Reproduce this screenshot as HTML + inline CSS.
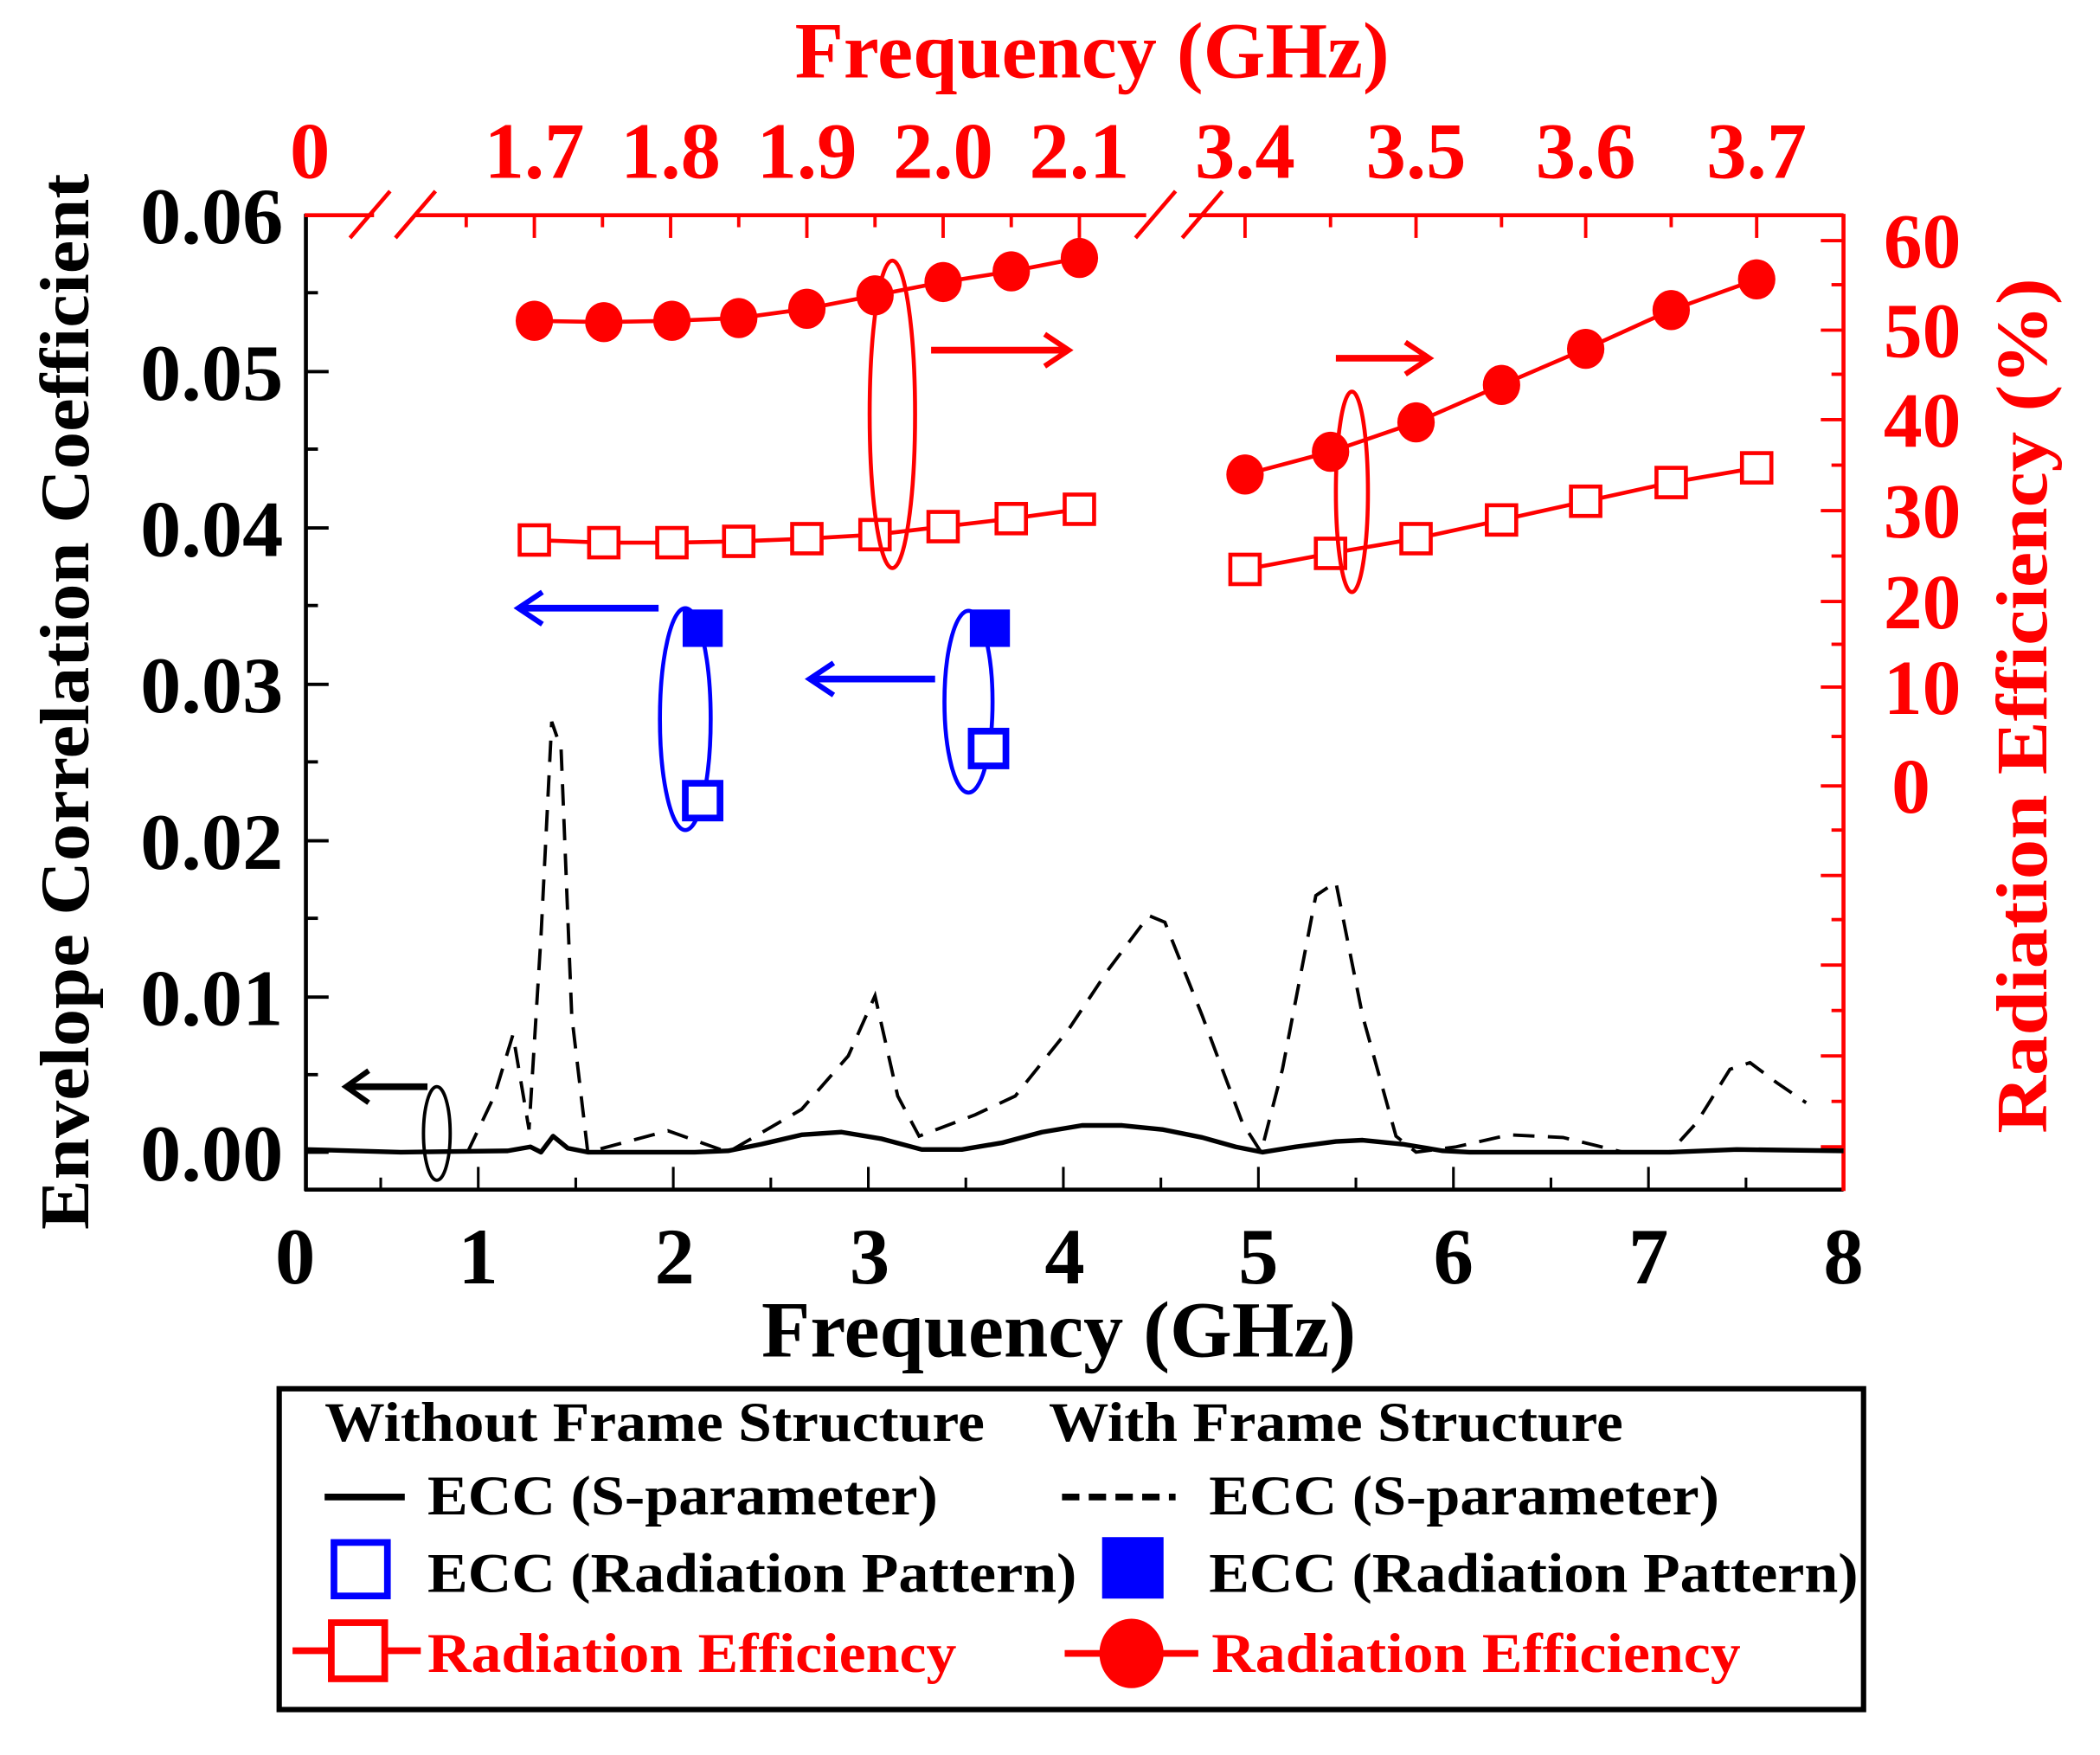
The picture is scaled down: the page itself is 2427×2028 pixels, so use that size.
<!DOCTYPE html>
<html><head><meta charset="utf-8"><style>html,body{margin:0;padding:0;background:#fff}svg{display:block}text{font-family:"Liberation Serif","Times New Roman",serif;font-weight:bold}</style></head>
<body>
<svg width="2427" height="2028" viewBox="0 0 1572 1313" preserveAspectRatio="none" xmlns="http://www.w3.org/2000/svg">
<rect width="1572" height="1313" fill="#fff"/>
<g stroke="#000" stroke-width="3" fill="none">
<line x1="229" y1="160" x2="229" y2="891"/>
<line x1="228" y1="890" x2="1380" y2="890"/>
</g>
<g stroke="#000" stroke-width="2.5">
<line x1="229" y1="278" x2="246" y2="278"/><line x1="229" y1="395" x2="246" y2="395"/><line x1="229" y1="512" x2="246" y2="512"/><line x1="229" y1="629" x2="246" y2="629"/><line x1="229" y1="746" x2="246" y2="746"/><line x1="229" y1="862" x2="246" y2="862"/>
<line x1="229" y1="219" x2="238" y2="219"/><line x1="229" y1="336" x2="238" y2="336"/><line x1="229" y1="453" x2="238" y2="453"/><line x1="229" y1="570" x2="238" y2="570"/><line x1="229" y1="687" x2="238" y2="687"/><line x1="229" y1="804" x2="238" y2="804"/>
</g>
<g stroke="#000" stroke-width="2">
<line x1="358" y1="890" x2="358" y2="873"/><line x1="504" y1="890" x2="504" y2="873"/><line x1="650" y1="890" x2="650" y2="873"/><line x1="796" y1="890" x2="796" y2="873"/><line x1="942" y1="890" x2="942" y2="873"/><line x1="1088" y1="890" x2="1088" y2="873"/><line x1="1234" y1="890" x2="1234" y2="873"/>
<line x1="285" y1="890" x2="285" y2="881"/><line x1="431" y1="890" x2="431" y2="881"/><line x1="577" y1="890" x2="577" y2="881"/><line x1="723" y1="890" x2="723" y2="881"/><line x1="869" y1="890" x2="869" y2="881"/><line x1="1015" y1="890" x2="1015" y2="881"/><line x1="1161" y1="890" x2="1161" y2="881"/><line x1="1307" y1="890" x2="1307" y2="881"/>
</g>
<g stroke="#f00" stroke-width="3" fill="none">
<line x1="1380" y1="160" x2="1380" y2="891"/>
<polyline points="228,161 280,161"/>
<polyline points="310,161 858,161"/>
<polyline points="890,161 1380,161"/>
<line x1="262" y1="178" x2="292" y2="143"/>
<line x1="296" y1="178" x2="326" y2="143"/>
<line x1="850" y1="178" x2="880" y2="143"/>
<line x1="885" y1="178" x2="915" y2="143"/>
</g>
<g stroke="#f00" stroke-width="2.5">
<line x1="1380" y1="180" x2="1363" y2="180"/><line x1="1380" y1="247" x2="1363" y2="247"/><line x1="1380" y1="314" x2="1363" y2="314"/><line x1="1380" y1="382" x2="1363" y2="382"/><line x1="1380" y1="450" x2="1363" y2="450"/><line x1="1380" y1="514" x2="1363" y2="514"/><line x1="1380" y1="588" x2="1363" y2="588"/><line x1="1380" y1="655" x2="1363" y2="655"/><line x1="1380" y1="722" x2="1363" y2="722"/><line x1="1380" y1="790" x2="1363" y2="790"/><line x1="1380" y1="858" x2="1363" y2="858"/>
<line x1="1380" y1="213" x2="1371" y2="213"/><line x1="1380" y1="280" x2="1371" y2="280"/><line x1="1380" y1="348" x2="1371" y2="348"/><line x1="1380" y1="416" x2="1371" y2="416"/><line x1="1380" y1="482" x2="1371" y2="482"/><line x1="1380" y1="551" x2="1371" y2="551"/><line x1="1380" y1="621" x2="1371" y2="621"/><line x1="1380" y1="688" x2="1371" y2="688"/><line x1="1380" y1="756" x2="1371" y2="756"/><line x1="1380" y1="824" x2="1371" y2="824"/>
<line x1="400" y1="161" x2="400" y2="178"/><line x1="502" y1="161" x2="502" y2="178"/><line x1="604" y1="161" x2="604" y2="178"/><line x1="706" y1="161" x2="706" y2="178"/><line x1="808" y1="161" x2="808" y2="178"/>
<line x1="349" y1="161" x2="349" y2="170"/><line x1="451" y1="161" x2="451" y2="170"/><line x1="553" y1="161" x2="553" y2="170"/><line x1="655" y1="161" x2="655" y2="170"/><line x1="757" y1="161" x2="757" y2="170"/>
<line x1="932" y1="161" x2="932" y2="178"/><line x1="1060" y1="161" x2="1060" y2="178"/><line x1="1187" y1="161" x2="1187" y2="178"/><line x1="1315" y1="161" x2="1315" y2="178"/>
<line x1="996" y1="161" x2="996" y2="170"/><line x1="1124" y1="161" x2="1124" y2="170"/><line x1="1251" y1="161" x2="1251" y2="170"/>
</g>
<g font-size="60" fill="#000">
<text x="105" y="182" textLength="107" lengthAdjust="spacingAndGlyphs">0.06</text><text x="105" y="299" textLength="107" lengthAdjust="spacingAndGlyphs">0.05</text><text x="105" y="416" textLength="107" lengthAdjust="spacingAndGlyphs">0.04</text><text x="105" y="533" textLength="107" lengthAdjust="spacingAndGlyphs">0.03</text><text x="105" y="650" textLength="107" lengthAdjust="spacingAndGlyphs">0.02</text><text x="105" y="767" textLength="107" lengthAdjust="spacingAndGlyphs">0.01</text><text x="105" y="883" textLength="107" lengthAdjust="spacingAndGlyphs">0.00</text>
</g>
<g font-size="60" text-anchor="middle" fill="#000">
<text x="221" y="960">0</text><text x="358" y="960">1</text><text x="505" y="960">2</text><text x="651" y="960">3</text><text x="797" y="960">4</text><text x="942" y="960">5</text><text x="1088" y="960">6</text><text x="1234" y="960">7</text><text x="1380" y="960">8</text>
</g>
<text x="570" y="1015" font-size="60" textLength="445" lengthAdjust="spacingAndGlyphs">Frequency (GHz)</text>
<text transform="translate(66,525) rotate(-90)" font-size="52" text-anchor="middle" textLength="790" lengthAdjust="spacingAndGlyphs">Envelope Correlation Coefficient</text>
<g fill="#f00" font-size="60" text-anchor="middle">
<text x="232" y="133">0</text><text x="400" y="133">1.7</text><text x="502" y="133">1.8</text><text x="604" y="133">1.9</text><text x="706" y="133">2.0</text><text x="808" y="133">2.1</text>
<text x="932" y="133">3.4</text><text x="1060" y="133">3.5</text><text x="1187" y="133">3.6</text><text x="1315" y="133">3.7</text>
</g>
<text x="595" y="58" fill="#f00" font-size="60" textLength="445" lengthAdjust="spacingAndGlyphs">Frequency (GHz)</text>
<g fill="#f00" font-size="58">
<text x="1410" y="200">60</text><text x="1410" y="267">50</text><text x="1410" y="334">40</text><text x="1410" y="402">30</text><text x="1410" y="470">20</text><text x="1410" y="534">10</text><text x="1416" y="608">0</text>
</g>
<text transform="translate(1532,528) rotate(-90)" fill="#f00" font-size="54" text-anchor="middle" textLength="640" lengthAdjust="spacingAndGlyphs">Radiation Efficiency (%)</text>
<polyline fill="none" stroke="#000" stroke-width="3.5" stroke-linejoin="round" points="229,860 300,862 380,861 397,858 405,862 414,850 425,859 440,862 520,862 545,861 570,856 600,849 630,847 660,852 690,860 720,860 750,855 780,847 810,842 840,842 870,845 900,851 925,858 945,862 970,858 1000,854 1020,853 1050,856 1080,861 1100,862 1250,862 1300,860 1380,861"/>
<polyline fill="none" stroke="#000" stroke-width="2.5" stroke-dasharray="16,10" points="350,862 370,820 384,774 396,845 405,700 413,540 420,560 428,760 440,862 500,846 545,862 600,830 635,790 655,745 672,820 688,850 730,834 760,820 800,770 830,725 860,685 872,690 900,760 930,840 944,862 960,800 985,670 1000,660 1020,760 1045,850 1060,862 1090,858 1130,849 1170,851 1215,862 1250,862 1270,840 1295,800 1310,795 1330,810 1352,825"/>
<g stroke="#f00" stroke-width="3" fill="none">
<polyline points="400,240 452,241 503,240 553,238 604,231 655,221 706,211 757,203 808,193"/>
<polyline points="932,355 996,338 1060,316 1124,288 1187,261 1251,232 1315,209"/>
<polyline points="400,404 452,406 503,406 553,405 604,403 655,400 706,394 757,388 808,381"/>
<polyline points="932,426 996,414 1060,403 1124,389 1187,375 1251,361 1315,350"/>
</g>
<g fill="#f00">
<ellipse cx="400" cy="240" rx="14" ry="15"/><ellipse cx="452" cy="241" rx="14" ry="15"/><ellipse cx="503" cy="240" rx="14" ry="15"/><ellipse cx="553" cy="238" rx="14" ry="15"/><ellipse cx="604" cy="231" rx="14" ry="15"/><ellipse cx="655" cy="221" rx="14" ry="15"/><ellipse cx="706" cy="211" rx="14" ry="15"/><ellipse cx="757" cy="203" rx="14" ry="15"/><ellipse cx="808" cy="193" rx="14" ry="15"/>
<ellipse cx="932" cy="355" rx="14" ry="15"/><ellipse cx="996" cy="338" rx="14" ry="15"/><ellipse cx="1060" cy="316" rx="14" ry="15"/><ellipse cx="1124" cy="288" rx="14" ry="15"/><ellipse cx="1187" cy="261" rx="14" ry="15"/><ellipse cx="1251" cy="232" rx="14" ry="15"/><ellipse cx="1315" cy="209" rx="14" ry="15"/>
</g>
<g fill="#fff" stroke="#f00" stroke-width="3">
<rect x="389" y="393" width="22" height="22"/><rect x="441" y="395" width="22" height="22"/><rect x="492" y="395" width="22" height="22"/><rect x="542" y="394" width="22" height="22"/><rect x="593" y="392" width="22" height="22"/><rect x="644" y="389" width="22" height="22"/><rect x="695" y="383" width="22" height="22"/><rect x="746" y="377" width="22" height="22"/><rect x="797" y="370" width="22" height="22"/>
<rect x="921" y="415" width="22" height="22"/><rect x="985" y="403" width="22" height="22"/><rect x="1049" y="392" width="22" height="22"/><rect x="1113" y="378" width="22" height="22"/><rect x="1176" y="364" width="22" height="22"/><rect x="1240" y="350" width="22" height="22"/><rect x="1304" y="339" width="22" height="22"/>
</g>
<g stroke="#f00" stroke-width="3" fill="none">
<ellipse cx="668" cy="310" rx="17" ry="115" stroke-dasharray="560,22"/>
<ellipse cx="1012" cy="368" rx="12" ry="75" stroke-dasharray="360,18"/>
<line x1="697" y1="262" x2="798" y2="262" stroke-width="5"/><polyline points="782,250 800,262 782,274" stroke-width="4"/>
<line x1="1000" y1="268" x2="1068" y2="268" stroke-width="5"/><polyline points="1052,256 1070,268 1052,280" stroke-width="4"/>
</g>
<g stroke="#00f" stroke-width="3" fill="none">
<ellipse cx="513" cy="538" rx="19" ry="83" stroke-dasharray="420,14"/>
<ellipse cx="725" cy="525" rx="18" ry="68" stroke-dasharray="340,14"/>
<line x1="493" y1="455" x2="390" y2="455" stroke-width="5"/><polyline points="406,443 388,455 406,467" stroke-width="4"/>
<line x1="700" y1="508" x2="608" y2="508" stroke-width="5"/><polyline points="624,496 606,508 624,520" stroke-width="4"/>
</g>
<rect x="511" y="456" width="30" height="28" fill="#00f"/>
<rect x="726" y="456" width="30" height="28" fill="#00f"/>
<rect x="513" y="586" width="26" height="26" fill="#fff" stroke="#00f" stroke-width="5"/>
<rect x="727" y="547" width="26" height="26" fill="#fff" stroke="#00f" stroke-width="5"/>
<ellipse cx="327" cy="848" rx="10" ry="35" fill="none" stroke="#000" stroke-width="2.5"/>
<line x1="320" y1="813" x2="262" y2="813" stroke="#000" stroke-width="5"/><polyline points="276,801 259,813 276,825" fill="none" stroke="#000" stroke-width="4"/>
<rect x="209" y="1039" width="1186" height="240" fill="#fff" stroke="#000" stroke-width="4"/>
<g font-size="42" fill="#000">
<text x="243" y="1078" textLength="494" lengthAdjust="spacingAndGlyphs">Without Frame Structure</text>
<text x="785" y="1078" textLength="430" lengthAdjust="spacingAndGlyphs">With Frame Structure</text>
<text x="320" y="1133" textLength="382" lengthAdjust="spacingAndGlyphs">ECC (S-parameter)</text>
<text x="905" y="1133" textLength="382" lengthAdjust="spacingAndGlyphs">ECC (S-parameter)</text>
<text x="320" y="1191" textLength="486" lengthAdjust="spacingAndGlyphs">ECC (Radiation Pattern)</text>
<text x="905" y="1191" textLength="486" lengthAdjust="spacingAndGlyphs">ECC (Radiation Pattern)</text>
</g>
<g font-size="42" fill="#f00">
<text x="320" y="1251" textLength="396" lengthAdjust="spacingAndGlyphs">Radiation Efficiency</text>
<text x="907" y="1251" textLength="396" lengthAdjust="spacingAndGlyphs">Radiation Efficiency</text>
</g>
<line x1="243" y1="1120" x2="303" y2="1120" stroke="#000" stroke-width="5"/>
<line x1="795" y1="1120" x2="880" y2="1120" stroke="#000" stroke-width="5" stroke-dasharray="13,7"/>
<rect x="250" y="1154" width="40" height="40" fill="#fff" stroke="#00f" stroke-width="5"/>
<rect x="825" y="1150" width="46" height="46" fill="#00f"/>
<line x1="219" y1="1235" x2="315" y2="1235" stroke="#f00" stroke-width="5"/>
<rect x="248" y="1214" width="40" height="42" fill="#fff" stroke="#f00" stroke-width="5"/>
<line x1="797" y1="1237" x2="897" y2="1237" stroke="#f00" stroke-width="5"/>
<ellipse cx="847" cy="1237" rx="24" ry="26" fill="#f00"/>
</svg>
</body></html>
